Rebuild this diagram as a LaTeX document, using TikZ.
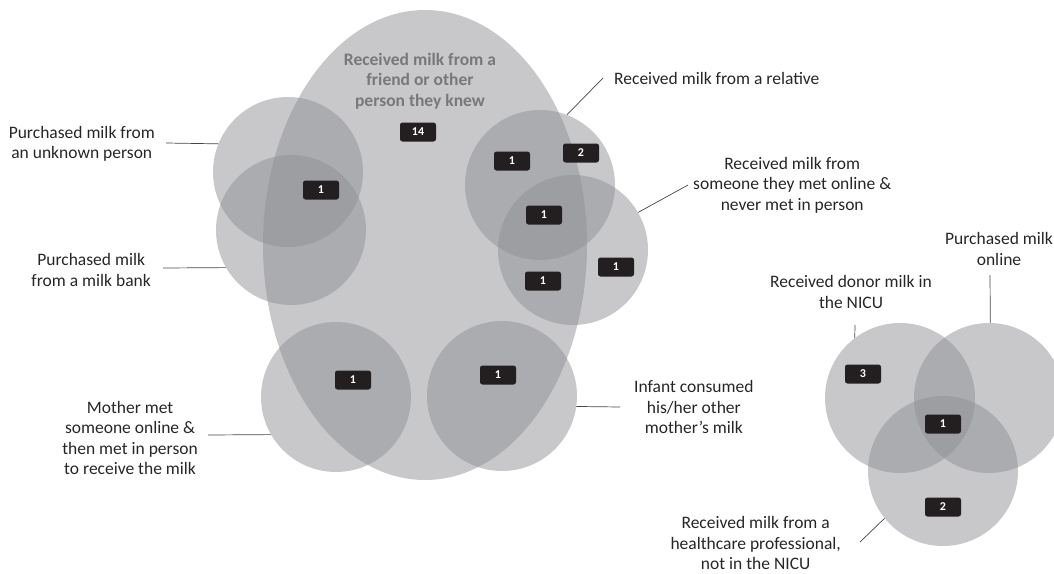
\documentclass[tikz,border=0pt]{standalone}
\usepackage{fontspec}
\setmainfont{Carlito}
\usetikzlibrary{shapes.geometric}
\definecolor{vfill}{RGB}{142,143,147}
\definecolor{boxc}{RGB}{35,31,32}
\definecolor{leadc}{RGB}{70,70,70}
\definecolor{titlec}{RGB}{120,120,122}
\tikzset{
  setc/.style={circle, minimum size=150pt, inner sep=0pt, fill=vfill, fill opacity=0.49, draw=none},
  cnt/.style={fill=boxc, rounded corners=2.5pt, minimum width=36pt, minimum height=19pt, inner sep=0pt,
    text=white, font=\fontsize{12}{12}\selectfont\bfseries},
  lbl/.style={align=center, text=black!85, font=\fontsize{17.5}{20.5}\selectfont, inner sep=0pt},
  lead/.style={draw=leadc, line width=0.7pt}
}
\begin{document}
\begin{tikzpicture}[x=1pt,y=-1pt]
\useasboundingbox (0,0) rectangle (1054,573);
% big ellipse
\node[ellipse, minimum width=324pt, minimum height=470pt, inner sep=0pt, fill=vfill, fill opacity=0.49] (friend) at (425,245) {};
\node[align=center, text=titlec, font=\fontsize{17.5}{20.5}\selectfont\bfseries, inner sep=0pt] (ftitle) at (420,81) {Received milk from a\\friend or other\\person they knew};
% circles
\node[setc] (unk) at (288,172) {};
\node[setc] (bank) at (291,230) {};
\node[setc] (rel) at (540,185) {};
\node[setc] (onl) at (573,250) {};
\node[setc] (moth) at (336,397) {};
\node[setc] (inf) at (502,396) {};
\node[setc] (nicu) at (900,398) {};
\node[setc] (pur) at (989,398) {};
\node[setc] (hc) at (943,471) {};
% counts
\node[cnt] (n14) at (418,132) {14};
\node[cnt] (nub) at (321,190) {1};
\node[cnt] (nr1) at (512,161) {1};
\node[cnt] (nr2) at (581,153) {2};
\node[cnt] (nro) at (544,215) {1};
\node[cnt] (nfo) at (543,281) {1};
\node[cnt] (no) at (616,267) {1};
\node[cnt] (nm) at (353,380) {1};
\node[cnt] (ni) at (498,375) {1};
\node[cnt] (nn) at (863,374) {3};
\node[cnt] (nall) at (943,424) {1};
\node[cnt] (nh) at (943,507) {2};
% labels
\node[lbl, anchor=east] (lunk) at (155,144) {Purchased milk from\\an unknown person};
\node[lbl, anchor=east] (lbank) at (151,270) {Purchased milk\\from a milk bank};
\node[lbl, anchor=east] (lmoth) at (198,438) {Mother met\\someone online \&\\then met in person\\to receive the milk};
\node[lbl, anchor=west] (lrel) at (614,78) {Received milk from a relative};
\node[lbl, anchor=west] (lonl) at (693,185) {Received milk from\\someone they met online \&\\never met in person};
\node[lbl, anchor=west] (linf) at (634,407) {Infant consumed\\his/her other\\mother’s milk};
\node[lbl] (lnicu) at (851,292) {Received donor milk in\\the NICU};
\node[lbl] (lpur) at (999,249) {Purchased milk\\online};
\node[lbl, anchor=east] (lhc) at (841,543) {Received milk from a\\healthcare professional,\\not in the NICU};
% leader ends
\coordinate (e1) at (166,143);
\coordinate (e2) at (163,268);
\coordinate (e3) at (603,78);
\coordinate (e4) at (688,185);
\coordinate (e5) at (208,435);
\coordinate (e6) at (620,407);
\coordinate (e7) at (855,325);
\coordinate (e8) at (990,275);
\coordinate (e9) at (860,542);
\draw[lead] (e1) -- (unk.158);
\draw[lead] (e2) -- (bank.210);
\draw[lead] (e3) -- (rel.69);
\draw[lead] (e4) -- (onl.30);
\draw[lead] (e5) -- (moth.210);
\draw[lead] (e6) -- (inf.352);
\draw[lead] (e7) -- (nicu.127);
\draw[lead] (e8) -- (pur.89);
\draw[lead] (e9) -- (hc.219);
\end{tikzpicture}
\end{document}
